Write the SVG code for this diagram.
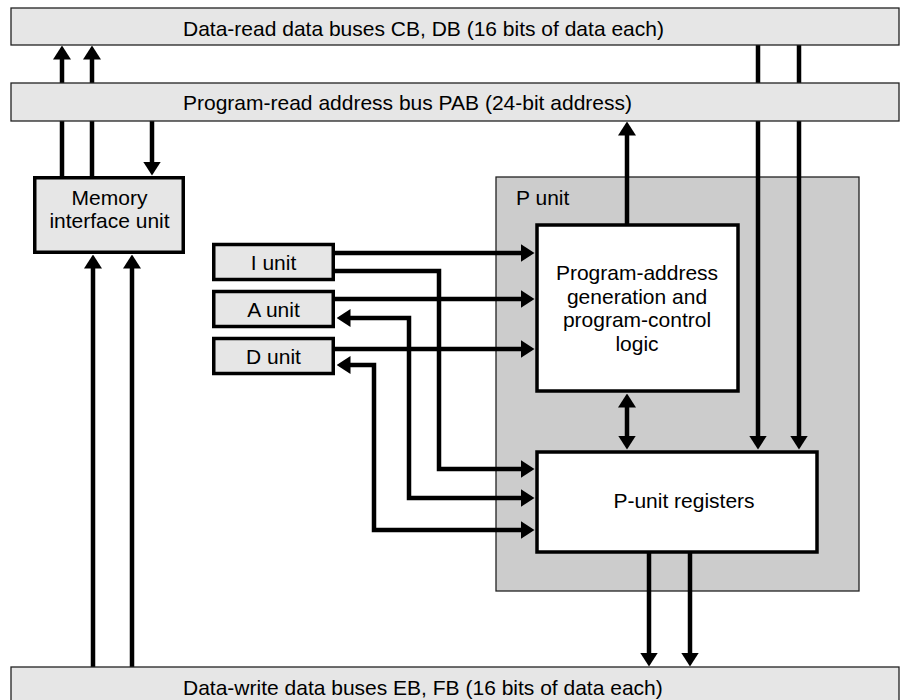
<svg xmlns="http://www.w3.org/2000/svg" width="904" height="700" viewBox="0 0 904 700">
<style>
  .bus { fill: #e6e6e6; stroke: #222; stroke-width: 1.3; }
  .cont { fill: #cccccc; stroke: #222; stroke-width: 1.3; }
  .unit { fill: #e6e6e6; stroke: #000; stroke-width: 3.5; }
  .blk { fill: #ffffff; stroke: #000; stroke-width: 3.5; }
  .t { font-family: "Liberation Sans", Arial, Helvetica, sans-serif; font-size: 21px; fill: #000; }
  .m { text-anchor: middle; }
  .c { fill: none; stroke: #000; stroke-width: 4.5; stroke-linejoin: miter; }
  .e { marker-end: url(#ah); }
  .b { marker-start: url(#ah); marker-end: url(#ah); }
</style>
<defs>
  <marker id="ah" markerUnits="userSpaceOnUse" viewBox="0 0 14 18" refX="0.5" refY="9" markerWidth="14" markerHeight="18" orient="auto-start-reverse">
    <path d="M0,0 L14,9 L0,18 Z" fill="#000"/>
  </marker>
</defs>

<g id="p-unit">
  <rect class="cont" x="496" y="177" width="363" height="414"/>
  <text class="t" x="516" y="205">P unit</text>
</g>

<g id="connectors">
  <path class="c e" d="M62,177 V59"/>
  <path class="c e" d="M92,177 V59"/>
  <path class="c e" d="M152,121 V162"/>
  <path class="c e" d="M93,667 V268"/>
  <path class="c e" d="M132,667 V268"/>
  <path class="c e" d="M627,224 V135"/>
  <path class="c e" d="M758,45 V436"/>
  <path class="c e" d="M799,45 V436"/>
  <path class="c b" d="M627,407 V436"/>
  <path class="c e" d="M649,553 V653"/>
  <path class="c e" d="M690,553 V653"/>
  <path class="c e" d="M334,253 H521"/>
  <path class="c e" d="M334,271 H439 V469 H521"/>
  <path class="c e" d="M334,299 H521"/>
  <path class="c b" d="M350,318 H409 V498 H521"/>
  <path class="c e" d="M334,349 H521"/>
  <path class="c b" d="M350,365 H374 V530 H521"/>
</g>

<g id="data-read-bus">
  <rect class="bus" x="11" y="8" width="888" height="37"/>
  <text class="t" x="183" y="36">Data-read data buses CB, DB (16 bits of data each)</text>
</g>
<g id="program-read-bus">
  <rect class="bus" x="11" y="83" width="888" height="38"/>
  <text class="t" x="183" y="110">Program-read address bus PAB (24-bit address)</text>
</g>
<g id="data-write-bus">
  <rect class="bus" x="11" y="667" width="888" height="45"/>
  <text class="t" x="183" y="695">Data-write data buses EB, FB (16 bits of data each)</text>
</g>

<g id="memory-interface-unit">
  <rect class="unit" x="34.75" y="177.75" width="148.5" height="74.5"/>
  <text class="t m" x="109.5" y="205">Memory</text>
  <text class="t m" x="109.5" y="228">interface unit</text>
</g>

<g id="i-unit">
  <rect class="unit" x="213.75" y="244.5" width="119.5" height="35"/>
  <text class="t m" x="273.5" y="269.5">I unit</text>
</g>
<g id="a-unit">
  <rect class="unit" x="213.75" y="291.5" width="119.5" height="35"/>
  <text class="t m" x="273.5" y="316.5">A unit</text>
</g>
<g id="d-unit">
  <rect class="unit" x="213.75" y="338.5" width="119.5" height="35"/>
  <text class="t m" x="273.5" y="363.5">D unit</text>
</g>

<g id="program-address-logic">
  <rect class="blk" x="537" y="225" width="201" height="166"/>
  <text class="t m" x="637" y="280">Program-address</text>
  <text class="t m" x="637" y="303.7">generation and</text>
  <text class="t m" x="637" y="327.4">program-control</text>
  <text class="t m" x="637" y="351">logic</text>
</g>

<g id="p-unit-registers">
  <rect class="blk" x="537" y="452" width="280" height="100"/>
  <text class="t m" x="684" y="508">P-unit registers</text>
</g>
</svg>
